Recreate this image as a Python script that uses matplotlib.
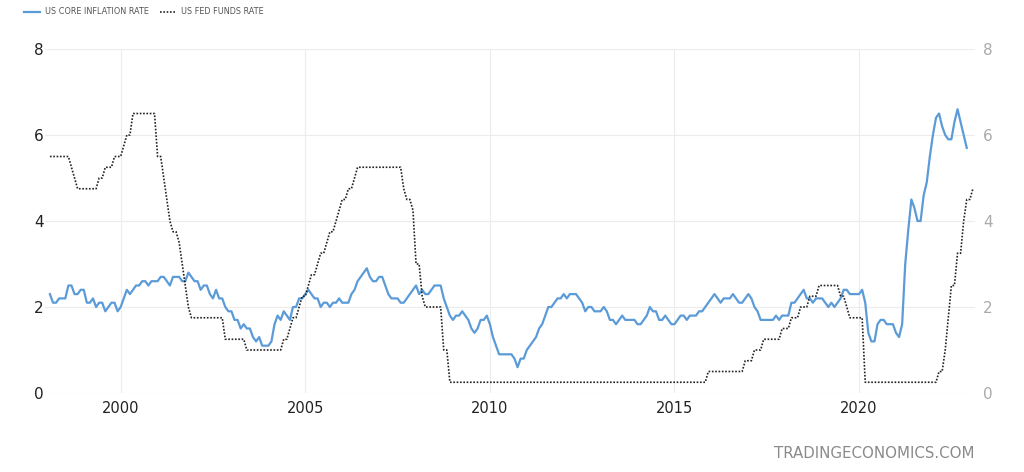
import matplotlib.pyplot as plt
import numpy as np

# monthly US core CPI (YoY %), Feb 1998 - Dec 2022
core_start = 1998 + 1 / 12
core_inflation = [
    2.3, 2.1, 2.1, 2.2, 2.2, 2.2, 2.5, 2.5, 2.3, 2.3, 2.4,  # 1998
    2.4, 2.1, 2.1, 2.2, 2.0, 2.1, 2.1, 1.9, 2.0, 2.1, 2.1, 1.9,  # 1999
    2.0, 2.2, 2.4, 2.3, 2.4, 2.5, 2.5, 2.6, 2.6, 2.5, 2.6, 2.6,  # 2000
    2.6, 2.7, 2.7, 2.6, 2.5, 2.7, 2.7, 2.7, 2.6, 2.6, 2.8, 2.7,  # 2001
    2.6, 2.6, 2.4, 2.5, 2.5, 2.3, 2.2, 2.4, 2.2, 2.2, 2.0, 1.9,  # 2002
    1.9, 1.7, 1.7, 1.5, 1.6, 1.5, 1.5, 1.3, 1.2, 1.3, 1.1, 1.1,  # 2003
    1.1, 1.2, 1.6, 1.8, 1.7, 1.9, 1.8, 1.7, 2.0, 2.0, 2.2, 2.2,  # 2004
    2.3, 2.4, 2.3, 2.2, 2.2, 2.0, 2.1, 2.1, 2.0, 2.1, 2.1, 2.2,  # 2005
    2.1, 2.1, 2.1, 2.3, 2.4, 2.6, 2.7, 2.8, 2.9, 2.7, 2.6, 2.6,  # 2006
    2.7, 2.7, 2.5, 2.3, 2.2, 2.2, 2.2, 2.1, 2.1, 2.2, 2.3, 2.4,  # 2007
    2.5, 2.3, 2.4, 2.3, 2.3, 2.4, 2.5, 2.5, 2.5, 2.2, 2.0, 1.8,  # 2008
    1.7, 1.8, 1.8, 1.9, 1.8, 1.7, 1.5, 1.4, 1.5, 1.7, 1.7, 1.8,  # 2009
    1.6, 1.3, 1.1, 0.9, 0.9, 0.9, 0.9, 0.9, 0.8, 0.6, 0.8, 0.8,  # 2010
    1.0, 1.1, 1.2, 1.3, 1.5, 1.6, 1.8, 2.0, 2.0, 2.1, 2.2, 2.2,  # 2011
    2.3, 2.2, 2.3, 2.3, 2.3, 2.2, 2.1, 1.9, 2.0, 2.0, 1.9, 1.9,  # 2012
    1.9, 2.0, 1.9, 1.7, 1.7, 1.6, 1.7, 1.8, 1.7, 1.7, 1.7, 1.7,  # 2013
    1.6, 1.6, 1.7, 1.8, 2.0, 1.9, 1.9, 1.7, 1.7, 1.8, 1.7, 1.6,  # 2014
    1.6, 1.7, 1.8, 1.8, 1.7, 1.8, 1.8, 1.8, 1.9, 1.9, 2.0, 2.1,  # 2015
    2.2, 2.3, 2.2, 2.1, 2.2, 2.2, 2.2, 2.3, 2.2, 2.1, 2.1, 2.2,  # 2016
    2.3, 2.2, 2.0, 1.9, 1.7, 1.7, 1.7, 1.7, 1.7, 1.8, 1.7, 1.8,  # 2017
    1.8, 1.8, 2.1, 2.1, 2.2, 2.3, 2.4, 2.2, 2.2, 2.1, 2.2, 2.2,  # 2018
    2.2, 2.1, 2.0, 2.1, 2.0, 2.1, 2.2, 2.4, 2.4, 2.3, 2.3, 2.3,  # 2019
    2.3, 2.4, 2.1, 1.4, 1.2, 1.2, 1.6, 1.7, 1.7, 1.6, 1.6, 1.6,  # 2020
    1.4, 1.3, 1.6, 3.0, 3.8, 4.5, 4.3, 4.0, 4.0, 4.6, 4.9, 5.5,  # 2021
    6.0, 6.4, 6.5, 6.2, 6.0, 5.9, 5.9, 6.3, 6.6, 6.3, 6.0, 5.7,  # 2022
]

# monthly fed funds target rate (%), Feb 1998 - Feb 2023
fed_start = 1998 + 1 / 12
fed_funds = [
    5.5, 5.5, 5.5, 5.5, 5.5, 5.5, 5.5, 5.25, 5.0, 4.75, 4.75,  # 1998
    4.75, 4.75, 4.75, 4.75, 4.75, 5.0, 5.0, 5.25, 5.25, 5.25, 5.5, 5.5,  # 1999
    5.5, 5.75, 6.0, 6.0, 6.5, 6.5, 6.5, 6.5, 6.5, 6.5, 6.5, 6.5,  # 2000
    5.5, 5.5, 5.0, 4.5, 4.0, 3.75, 3.75, 3.5, 3.0, 2.5, 2.0, 1.75,  # 2001
    1.75, 1.75, 1.75, 1.75, 1.75, 1.75, 1.75, 1.75, 1.75, 1.75, 1.25, 1.25,  # 2002
    1.25, 1.25, 1.25, 1.25, 1.25, 1.0, 1.0, 1.0, 1.0, 1.0, 1.0, 1.0,  # 2003
    1.0, 1.0, 1.0, 1.0, 1.0, 1.25, 1.25, 1.5, 1.75, 1.75, 2.0, 2.25,  # 2004
    2.25, 2.5, 2.75, 2.75, 3.0, 3.25, 3.25, 3.5, 3.75, 3.75, 4.0, 4.25,  # 2005
    4.5, 4.5, 4.75, 4.75, 5.0, 5.25, 5.25, 5.25, 5.25, 5.25, 5.25, 5.25,  # 2006
    5.25, 5.25, 5.25, 5.25, 5.25, 5.25, 5.25, 5.25, 4.75, 4.5, 4.5, 4.25,  # 2007
    3.0, 3.0, 2.25, 2.0, 2.0, 2.0, 2.0, 2.0, 2.0, 1.0, 1.0, 0.25,  # 2008
    0.25, 0.25, 0.25, 0.25, 0.25, 0.25, 0.25, 0.25, 0.25, 0.25, 0.25, 0.25,  # 2009
    0.25, 0.25, 0.25, 0.25, 0.25, 0.25, 0.25, 0.25, 0.25, 0.25, 0.25, 0.25,  # 2010
    0.25, 0.25, 0.25, 0.25, 0.25, 0.25, 0.25, 0.25, 0.25, 0.25, 0.25, 0.25,  # 2011
    0.25, 0.25, 0.25, 0.25, 0.25, 0.25, 0.25, 0.25, 0.25, 0.25, 0.25, 0.25,  # 2012
    0.25, 0.25, 0.25, 0.25, 0.25, 0.25, 0.25, 0.25, 0.25, 0.25, 0.25, 0.25,  # 2013
    0.25, 0.25, 0.25, 0.25, 0.25, 0.25, 0.25, 0.25, 0.25, 0.25, 0.25, 0.25,  # 2014
    0.25, 0.25, 0.25, 0.25, 0.25, 0.25, 0.25, 0.25, 0.25, 0.25, 0.25, 0.5,  # 2015
    0.5, 0.5, 0.5, 0.5, 0.5, 0.5, 0.5, 0.5, 0.5, 0.5, 0.5, 0.75,  # 2016
    0.75, 0.75, 1.0, 1.0, 1.0, 1.25, 1.25, 1.25, 1.25, 1.25, 1.25, 1.5,  # 2017
    1.5, 1.5, 1.75, 1.75, 1.75, 2.0, 2.0, 2.0, 2.25, 2.25, 2.25, 2.5,  # 2018
    2.5, 2.5, 2.5, 2.5, 2.5, 2.5, 2.25, 2.25, 2.0, 1.75, 1.75, 1.75,  # 2019
    1.75, 1.75, 0.25, 0.25, 0.25, 0.25, 0.25, 0.25, 0.25, 0.25, 0.25, 0.25,  # 2020
    0.25, 0.25, 0.25, 0.25, 0.25, 0.25, 0.25, 0.25, 0.25, 0.25, 0.25, 0.25,  # 2021
    0.25, 0.25, 0.5, 0.5, 1.0, 1.75, 2.5, 2.5, 3.25, 3.25, 4.0, 4.5,  # 2022
    4.5, 4.75,  # 2023
]

year_ticks = [2000, 2005, 2010, 2015, 2020]
y_ticks = [0, 2, 4, 6, 8]

core_x = core_start + np.arange(len(core_inflation)) / 12
fed_x = fed_start + np.arange(len(fed_funds)) / 12

fig = plt.figure(figsize=(10.24, 4.72), dpi=100)
ax = fig.add_axes([45 / 1024, 79 / 472, 930 / 1024, 344 / 472])

ax.plot(core_x, core_inflation, color="#5b9bd8", lw=1.6, clip_on=False,
        label="US CORE INFLATION RATE")
ax.plot(fed_x, fed_funds, color="#222222", lw=1.2, ls=(0, (1, 1)), clip_on=False,
        label="US FED FUNDS RATE")

ax.set_xlim(1997.95, 2023.14)
ax.set_ylim(0, 8)
ax.set_xticks(year_ticks)
ax.set_xticklabels([str(y) for y in year_ticks], fontsize=10.5, color="#222222")
ax.set_yticks(y_ticks)
ax.set_yticklabels([str(v) for v in y_ticks], fontsize=11, color="#222222")
ax.tick_params(length=0, pad=6)
ax.tick_params(axis="y", pad=1)
ax.grid(True, color="#ececec", lw=0.8)
for s in ax.spines.values():
    s.set_visible(False)

# right axis labels in grey
ax2 = ax.twinx()
ax2.set_ylim(0, 8)
ax2.set_yticks(y_ticks)
ax2.set_yticklabels([str(v) for v in y_ticks], fontsize=11, color="#aaaaaa")
ax2.tick_params(length=0, pad=6)
for s in ax2.spines.values():
    s.set_visible(False)

fig.legend(loc="upper left", bbox_to_anchor=(0.016, 1.0), ncol=2, frameon=False,
           fontsize=5.9, labelcolor="#555555", handlelength=2.0, columnspacing=1.3,
           handletextpad=0.6)

fig.text(975 / 1024, 18 / 472, "TRADINGECONOMICS.COM", ha="right", va="center",
         fontsize=10.8, color="#8a8a8a")

plt.savefig("out.png", dpi=100)
